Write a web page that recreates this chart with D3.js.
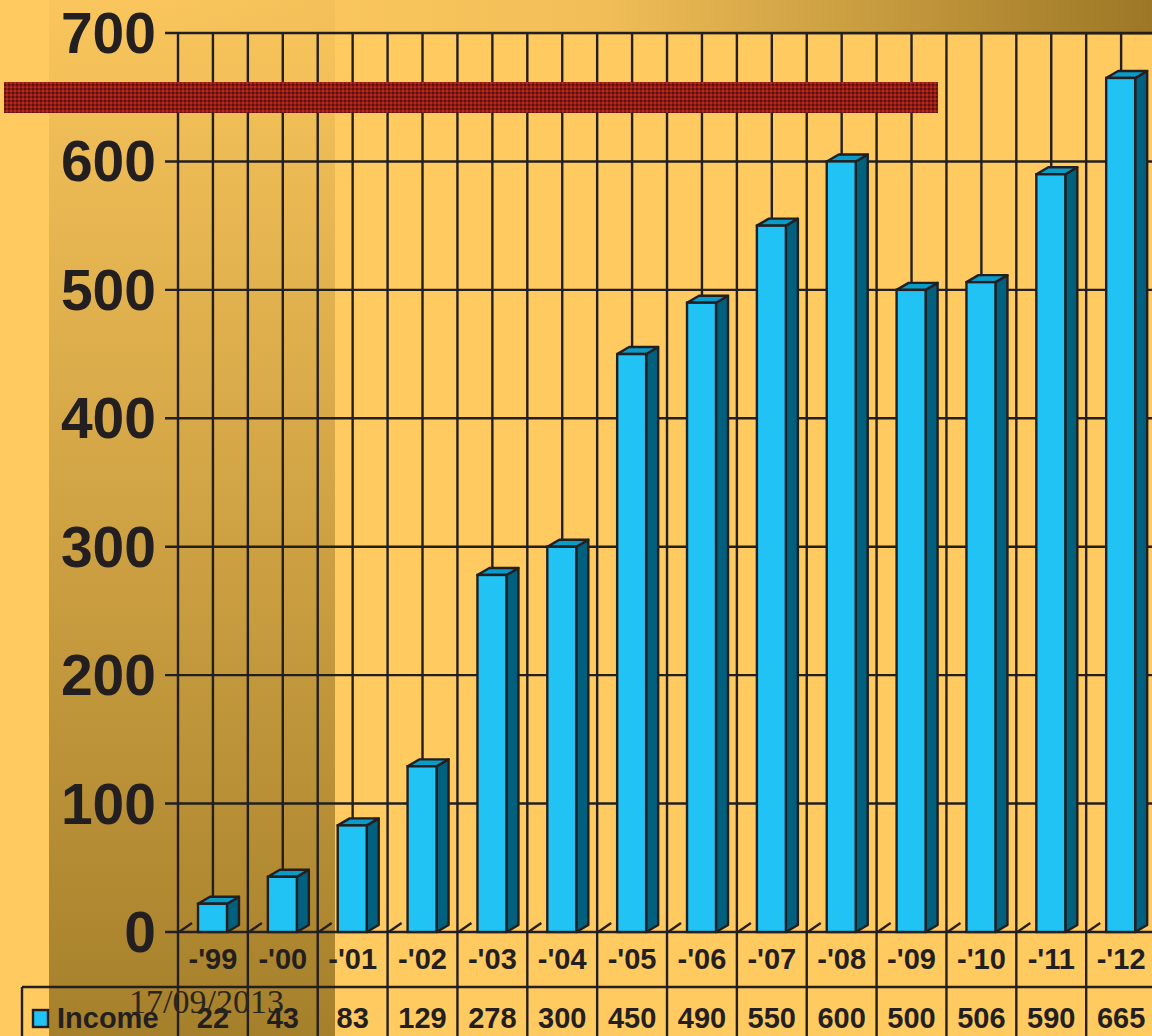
<!DOCTYPE html>
<html>
<head>
<meta charset="utf-8">
<script src="https://cdn.jsdelivr.net/npm/d3@7"></script>
<style>
  body { margin: 0; background: #FFCA60; }
  svg { display: block; }
</style>
</head>
<body>
<div id="chart"></div>
<script>
// chart data
const categories = ["-'99", "-'00", "-'01", "-'02", "-'03", "-'04", "-'05", "-'06", "-'07", "-'08", "-'09", "-'10", "-'11", "-'12"];
const income = [22, 43, 83, 129, 278, 300, 450, 490, 550, 600, 500, 506, 590, 665];
const yTicks = [0, 100, 200, 300, 400, 500, 600, 700];
const seriesName = "Income";
const dateLabel = "17/09/2013";

const width = 1152;
const height = 1036;
const plot = {left: 178, top: 33, bottom: 932};
const bandW = 69.86;
const depth = {dx: 12, dy: -7};
const ink = "#231F20";
const lw = 2.4;

const svg = d3.select("#chart")
  .append("svg")
  .attr("width", width)
  .attr("height", height)
  .attr("viewBox", [0, 0, width, height]);

const defs = svg.append("defs");

// dark shading on the left strip, stronger towards the bottom
const gLeft = defs.append("linearGradient")
  .attr("id", "leftShade").attr("x1", 0).attr("y1", 0).attr("x2", 0).attr("y2", 1);
gLeft.append("stop").attr("offset", "0%").attr("stop-color", "rgb(110,82,10)").attr("stop-opacity", 0.04);
gLeft.append("stop").attr("offset", "100%").attr("stop-color", "rgb(110,82,10)").attr("stop-opacity", 0.62);

// top band, darker towards the right
const gTop = defs.append("linearGradient")
  .attr("id", "topShade").attr("x1", 0).attr("y1", 0).attr("x2", 1).attr("y2", 0);
gTop.append("stop").attr("offset", "0%").attr("stop-color", "rgb(110,80,10)").attr("stop-opacity", 0);
gTop.append("stop").attr("offset", "45%").attr("stop-color", "rgb(110,80,10)").attr("stop-opacity", 0.1);
gTop.append("stop").attr("offset", "100%").attr("stop-color", "rgb(110,80,10)").attr("stop-opacity", 0.68);

// red textured stripe
const pat = defs.append("pattern")
  .attr("id", "redTex").attr("width", 4).attr("height", 4)
  .attr("patternUnits", "userSpaceOnUse");
pat.append("rect").attr("width", 4).attr("height", 4).attr("fill", "#8E1C16");
pat.append("rect").attr("width", 2).attr("height", 2).attr("fill", "#5A1210");
pat.append("rect").attr("x", 2).attr("y", 2).attr("width", 2).attr("height", 2).attr("fill", "#B8281C");

// background decorations
svg.append("rect").attr("width", width).attr("height", height).attr("fill", "#FFCA60");
svg.append("rect").attr("x", 49).attr("y", 0).attr("width", 286).attr("height", height)
  .attr("fill", "url(#leftShade)");
svg.append("rect").attr("x", 157).attr("y", 0).attr("width", width - 157).attr("height", 35)
  .attr("fill", "url(#topShade)");

// scales
const y = d3.scaleLinear().domain([0, 700]).range([plot.bottom, plot.top]);
const x = d3.scaleBand().domain(categories)
  .range([plot.left, plot.left + bandW * categories.length]).padding(0);

// horizontal gridlines + tick marks
svg.append("g").selectAll("line")
  .data(yTicks).enter().append("line")
    .attr("x1", 165).attr("x2", width)
    .attr("y1", d => y(d)).attr("y2", d => y(d))
    .attr("stroke", ink).attr("stroke-width", lw);

// vertical gridlines, two per category
const vLines = d3.range(categories.length * 2 + 1).map(i => plot.left + i * bandW / 2);
svg.append("g").selectAll("line")
  .data(vLines).enter().append("line")
    .attr("x1", d => d).attr("x2", d => d)
    .attr("y1", plot.top).attr("y2", plot.bottom)
    .attr("stroke", ink).attr("stroke-width", lw);

// red stripe
svg.append("rect").attr("x", 4).attr("y", 82).attr("width", 934).attr("height", 31)
  .attr("fill", "url(#redTex)");

// floor depth marks
svg.append("g").selectAll("line")
  .data(categories).enter().append("line")
    .attr("x1", d => x(d) + 1).attr("y1", plot.bottom)
    .attr("x2", d => x(d) + 14).attr("y2", plot.bottom - 9)
    .attr("stroke", ink).attr("stroke-width", lw);

// y labels
svg.append("g").selectAll("text")
  .data(yTicks).enter().append("text")
    .attr("x", 156).attr("y", d => y(d) + 20)
    .attr("text-anchor", "end")
    .attr("font-family", "Liberation Sans, Arial, sans-serif")
    .attr("font-weight", "bold").attr("font-size", 57)
    .attr("fill", ink)
    .text(d => d);

// 3d bars
const barOff = 20, barW = 29;
const bars = svg.append("g").selectAll("g")
  .data(categories.map((c, i) => ({cat: c, value: income[i]})))
  .enter().append("g");

bars.append("path")   // side
  .attr("d", d => {
    const x0 = x(d.cat) + barOff + barW, yt = y(d.value), yb = y(0);
    return `M${x0},${yb} L${x0},${yt} L${x0 + depth.dx},${yt + depth.dy} L${x0 + depth.dx},${yb + depth.dy} Z`;
  })
  .attr("fill", "#00607E").attr("stroke", ink).attr("stroke-width", lw).attr("stroke-linejoin", "round");

bars.append("path")   // top
  .attr("d", d => {
    const x0 = x(d.cat) + barOff, yt = y(d.value);
    return `M${x0},${yt} L${x0 + depth.dx},${yt + depth.dy} L${x0 + barW + depth.dx},${yt + depth.dy} L${x0 + barW},${yt} Z`;
  })
  .attr("fill", "#0A9CC8").attr("stroke", ink).attr("stroke-width", lw).attr("stroke-linejoin", "round");

bars.append("rect")   // front
  .attr("x", d => x(d.cat) + barOff)
  .attr("y", d => y(d.value))
  .attr("width", barW)
  .attr("height", d => y(0) - y(d.value))
  .attr("fill", "#20C3F3").attr("stroke", ink).attr("stroke-width", lw);

// data table
const rowTop = 987;
const table = svg.append("g");
table.append("line").attr("x1", 22).attr("x2", width).attr("y1", rowTop).attr("y2", rowTop)
  .attr("stroke", ink).attr("stroke-width", lw);
table.append("line").attr("x1", 22).attr("x2", 22).attr("y1", rowTop).attr("y2", height)
  .attr("stroke", ink).attr("stroke-width", lw);
table.selectAll(".sep")
  .data(categories).enter().append("line")
    .attr("class", "sep")
    .attr("x1", d => x(d)).attr("x2", d => x(d))
    .attr("y1", plot.bottom).attr("y2", height)
    .attr("stroke", ink).attr("stroke-width", lw);

table.selectAll(".cat")
  .data(categories).enter().append("text")
    .attr("class", "cat")
    .attr("x", d => x(d) + bandW / 2).attr("y", 969)
    .attr("text-anchor", "middle")
    .attr("font-family", "Liberation Sans, Arial, sans-serif")
    .attr("font-weight", "bold").attr("font-size", 29)
    .attr("fill", ink)
    .text(d => d);

table.selectAll(".val")
  .data(categories.map((c, i) => ({cat: c, value: income[i]}))).enter().append("text")
    .attr("class", "val")
    .attr("x", d => x(d.cat) + bandW / 2).attr("y", 1028)
    .attr("text-anchor", "middle")
    .attr("font-family", "Liberation Sans, Arial, sans-serif")
    .attr("font-weight", "bold").attr("font-size", 29)
    .attr("fill", ink)
    .text(d => d.value);

// legend key
table.append("rect").attr("x", 33).attr("y", 1010).attr("width", 15).attr("height", 17)
  .attr("fill", "#20C3F3").attr("stroke", ink).attr("stroke-width", lw);
table.append("text").attr("x", 57).attr("y", 1028)
  .attr("font-family", "Liberation Sans, Arial, sans-serif")
  .attr("font-weight", "bold").attr("font-size", 29)
  .attr("fill", ink)
  .text(seriesName);

// date stamp
svg.append("text").attr("x", 129).attr("y", 1013)
  .attr("font-family", "Liberation Serif, Times New Roman, serif")
  .attr("font-size", 34)
  .attr("fill", "#2A261E")
  .text(dateLabel);
</script>
</body>
</html>
